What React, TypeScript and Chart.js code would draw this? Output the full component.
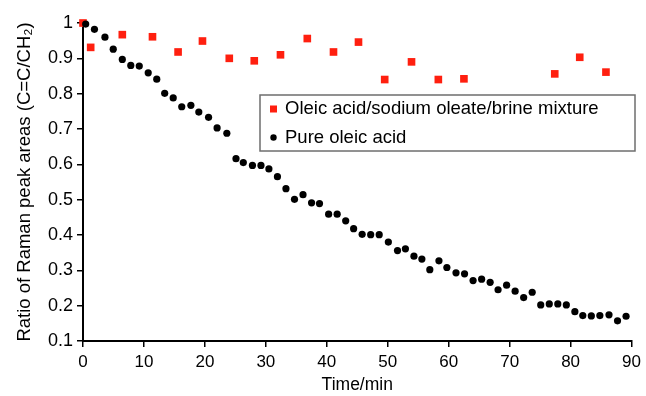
import React, { useEffect, useRef } from "react";
import { Chart, registerables } from "chart.js";

Chart.register(...registerables);

const FONT = "'Liberation Sans', Arial, Helvetica, sans-serif";

const xTitle = "Time/min";
const yTitle = "Ratio of Raman peak areas (C=C/CH\u2082)";
const mixtureLabel = "Oleic acid/sodium oleate/brine mixture";
const pureLabel = "Pure oleic acid";

const mixtureTime = [0, 1.26, 6.45, 11.4, 15.6, 19.6, 24.0, 28.1, 32.4, 36.8, 41.1, 45.2, 49.5, 53.9, 58.3, 62.5, 77.4, 81.5, 85.8];
const mixtureRatio = [1.0, 0.931, 0.967, 0.961, 0.918, 0.949, 0.9, 0.893, 0.91, 0.956, 0.918, 0.946, 0.84, 0.89, 0.84, 0.842, 0.856, 0.903, 0.861];

const pureTime = [
  0.44, 1.88, 3.6, 4.96, 6.45, 7.84, 9.23, 10.7, 12.1, 13.4,
  14.8, 16.2, 17.7, 19.0, 20.6, 22.0, 23.6, 25.1, 26.3, 27.8,
  29.2, 30.5, 31.9, 33.3, 34.7, 36.1, 37.5, 38.8, 40.3, 41.7,
  43.1, 44.4, 45.8, 47.2, 48.6, 50.1, 51.6, 52.9, 54.3, 55.6,
  56.9, 58.4, 59.7, 61.2, 62.6, 64.0, 65.4, 66.8, 68.1, 69.5,
  70.9, 72.3, 73.7, 75.1, 76.5, 77.9, 79.3, 80.7, 82.0, 83.4,
  84.8, 86.3, 87.7, 89.1,
];
const pureRatio = [
  0.997, 0.982, 0.96, 0.926, 0.897, 0.88, 0.878, 0.859, 0.841, 0.801,
  0.788, 0.763, 0.767, 0.748, 0.733, 0.703, 0.688, 0.616, 0.605, 0.597,
  0.597, 0.587, 0.565, 0.531, 0.501, 0.514, 0.491, 0.489, 0.459, 0.459,
  0.44, 0.418, 0.402, 0.401, 0.401, 0.38, 0.356, 0.361, 0.34, 0.332,
  0.302, 0.327, 0.308, 0.293, 0.29, 0.271, 0.275, 0.266, 0.245, 0.258,
  0.241, 0.223, 0.238, 0.202, 0.205, 0.205, 0.202, 0.183, 0.172, 0.171,
  0.172, 0.174, 0.157, 0.17,
];

const RED = "#ff1f0f";

const legendPlugin = {
  id: "boxLegend",
  afterDatasetsDraw(chart: any) {
    const ctx = chart.ctx as CanvasRenderingContext2D;
    ctx.save();
    const x0 = 260, y0 = 95, x1 = 635, y1 = 151;
    ctx.fillStyle = "#ffffff";
    ctx.fillRect(x0, y0, x1 - x0, y1 - y0);
    ctx.strokeStyle = "#6e6e6e";
    ctx.lineWidth = 1.5;
    ctx.strokeRect(x0, y0, x1 - x0, y1 - y0);
    ctx.fillStyle = RED;
    ctx.fillRect(270, 105.5, 7, 7);
    ctx.fillStyle = "#000";
    ctx.beginPath();
    ctx.arc(273.5, 137.5, 3.2, 0, Math.PI * 2);
    ctx.fill();
    ctx.font = `18.5px ${FONT}`;
    ctx.textBaseline = "middle";
    ctx.textAlign = "left";
    ctx.fillText(mixtureLabel, 285, 109);
    ctx.fillText(pureLabel, 285, 137.5);
    ctx.restore();
  },
};

export default function App() {
  const ref = useRef<HTMLCanvasElement | null>(null);
  useEffect(() => {
    if (!ref.current) return;
    const xTickFont = { family: FONT, size: 17, lineHeight: 1.2 };
    const yTickFont = { family: FONT, size: 18, lineHeight: 1.2 };
    const xTitleFont = { family: FONT, size: 17.5, lineHeight: 1.2 };
    const yTitleFont = { family: FONT, size: 18.5, lineHeight: 1.2 };
    const chart = new Chart(ref.current, {
      type: "scatter",
      data: {
        datasets: [
          {
            label: pureLabel,
            data: pureTime.map((x, i) => ({ x, y: pureRatio[i] })),
            pointStyle: "circle",
            pointRadius: 3.6,
            backgroundColor: "#000",
            borderWidth: 0,
            clip: false,
            order: 0,
          },
          {
            label: mixtureLabel,
            data: mixtureTime.map((x, i) => ({ x, y: mixtureRatio[i] })),
            pointStyle: "rect",
            pointRadius: 5.4,
            backgroundColor: RED,
            borderWidth: 0,
            clip: false,
            order: 1,
          },
        ],
      },
      options: {
        responsive: false,
        animation: false,
        devicePixelRatio: 1,
        layout: { padding: { left: 0, right: 11, top: 23, bottom: 0 } },
        plugins: { legend: { display: false }, tooltip: { enabled: false } },
        scales: {
          x: {
            type: "linear",
            min: 0,
            max: 90,
            ticks: { stepSize: 10, color: "#000", font: xTickFont, padding: 5, maxRotation: 0 },
            grid: { display: true, drawOnChartArea: false, tickLength: 6, color: "#000", lineWidth: 1.5 },
            border: { color: "#000", width: 2 },
            title: { display: true, text: xTitle, color: "#000", font: xTitleFont, padding: { top: 0, bottom: 0 } },
            afterFit: (s: any) => { s.height = 55; },
          },
          y: {
            type: "linear",
            min: 0.1,
            max: 1,
            ticks: {
              stepSize: 0.1,
              color: "#000",
              font: yTickFont,
              padding: 4,
              callback: (v: any) => String(Math.round(Number(v) * 10) / 10),
            },
            grid: { display: true, drawOnChartArea: false, tickLength: 6, color: "#000", lineWidth: 1.5 },
            border: { color: "#000", width: 2 },
            title: { display: true, text: yTitle, color: "#000", font: yTitleFont, padding: { top: 14, bottom: 0 } },
            afterFit: (s: any) => { s.width = 83; },
          },
        },
      },
      plugins: [legendPlugin],
    } as any);
    return () => chart.destroy();
  }, []);
  return (
    <div style={{ position: "absolute", left: 0, top: 0, width: 646, height: 396, background: "#fff" }}>
      <canvas ref={ref} width={646} height={396} style={{ display: "block", width: 646, height: 396 }} />
    </div>
  );
}
